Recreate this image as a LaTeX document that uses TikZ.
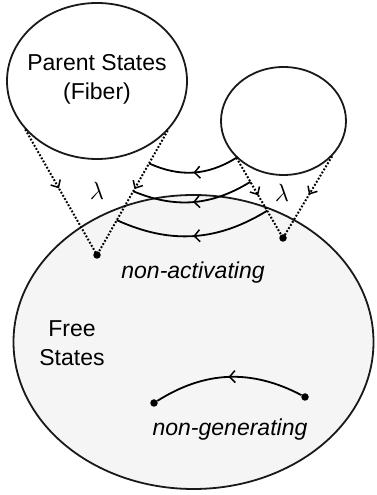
\documentclass[tikz,border=0pt]{standalone}
\usepackage{fontspec}
\setmainfont{Liberation Sans}
\usetikzlibrary{shapes.geometric,arrows.meta,decorations.markings,calc}
\begin{document}
\begin{tikzpicture}[x=1pt,y=1pt,
  region/.style={draw=black!90,line width=1.8pt,ellipse,inner sep=0pt},
  pt/.style={circle,fill=black,inner sep=0pt,minimum size=7.5pt},
  dotline/.style={line width=2pt,dash pattern=on 1.8pt off 1.8pt,
    postaction={decorate,decoration={markings,mark=at position 0.47 with {\arrow[solid,line width=1.5pt]{Straight Barb[length=6pt,width=11pt]}}}}},
  flow/.style={line width=1.8pt,
    postaction={decorate,decoration={markings,mark=at position 0.5 with {\arrow[line width=1.5pt]{Straight Barb[length=5.5pt,width=12pt]}}}}},
  lbl/.style={font=\fontsize{23}{29}\selectfont,align=center,inner sep=0pt},
  ilbl/.style={font=\fontsize{23}{29}\selectfont\itshape,inner sep=0pt},
  lam/.style={font=\fontsize{27}{29}\selectfont,inner sep=0pt}]
\useasboundingbox (0,0) rectangle (376,495);
% regions
\node[region,fill=black!4,minimum width=360pt,minimum height=294pt] (free) at (193.5,153) {};
\node[region,minimum width=180pt,minimum height=156pt] (parent) at (97,414) {};
\node[region,minimum width=125pt,minimum height=108pt] (small) at (283.5,374) {};
% texts
\node[lbl] (ptext) at (97,416) {Parent States\\(Fiber)};
\node[lbl] (ftext) at (72,152) {Free\\States};
\node[ilbl] (nact) at (193,222) {non-activating};
\node[ilbl] (ngen) at (230,65) {non-generating};
\node[lam] (lam1) at (97,304) {$\lambda$};
\node[lam] (lam2) at (282,302) {$\lambda$};
% dots
\node[pt] (ldot) at (97,240) {};
\node[pt] (rdot) at (283,257) {};
\node[pt] (ngl) at (154,92) {};
\node[pt] (ngr) at (305,98) {};
% dotted projections
\coordinate (pls) at (parent.214);
\coordinate (prs) at (parent.325);
\coordinate (sls) at (small.218);
\coordinate (srs) at (small.324);
\draw[dotline] (pls) -- (ldot.center);
\draw[dotline] (prs) -- (ldot.center);
\draw[dotline] (sls) -- (rdot.center);
\draw[dotline] (srs) -- (rdot.center);
% arcs
\coordinate (a1l) at ($(prs)!0.264!(ldot.center)$);
\coordinate (a2r) at ($(sls)!0.30!(rdot.center)$);
\coordinate (a2l) at ($(prs)!0.488!(ldot.center)$);
\coordinate (a3r) at ($(sls)!0.66!(rdot.center)$);
\coordinate (a3l) at ($(prs)!0.72!(ldot.center)$);
\draw[flow] (sls) to[bend left=28] (a1l);
\draw[flow] (a2r) to[bend left=27] (a2l);
\draw[flow] (a3r) to[bend left=28] (a3l);
\draw[flow] (ngr) to[bend right=30] (ngl);
\end{tikzpicture}
\end{document}
